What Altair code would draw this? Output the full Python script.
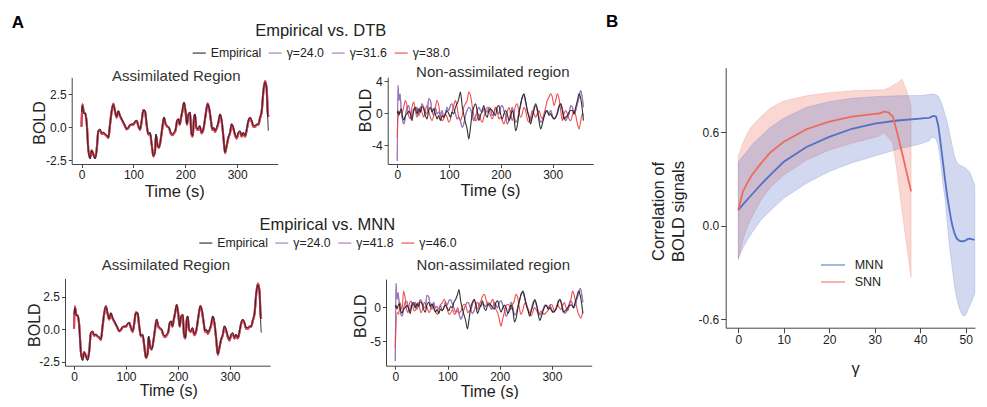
import altair as alt
import pandas as pd

FONT = "Liberation Sans"
W, H = 971, 391
MINUS = "replace(datum.label, '\u2212', '-')"

# ---------------- Panel A : assimilated region (same empirical trace in both rows) ----------------
T_ASSIM = [0, 1.6, 4.8, 6.7, 10.0, 13.2, 16.4, 19.6, 22.8, 26.0,
           29.2, 32.4, 35.6, 38.9, 42.1, 45.3, 48.5, 51.7, 54.9, 58.1,
           61.3, 64.5, 67.7, 70.9, 74.2, 77.4, 80.6, 83.8, 87.0, 90.2,
           93.4, 96.6, 99.9, 103.1, 106.3, 109.5, 112.7, 115.9, 119.1, 122.3,
           125.5, 128.8, 132.0, 135.2, 138.4, 141.6, 143.5, 146.7, 149.3, 153.1,
           155.7, 158.9, 162.2, 165.4, 168.6, 171.8, 175.0, 178.2, 181.4, 184.0,
           186.6, 189.2, 191.7, 194.3, 197.5, 200.7, 203.3, 205.9, 209.1, 211.6,
           214.2, 216.8, 218.7, 221.3, 224.5, 227.7, 231.5, 235.4, 239.2, 243.1,
           246.3, 249.5, 252.1, 254.7, 257.2, 260.4, 263.6, 266.9, 270.1, 273.3,
           276.5, 279.7, 282.9, 286.1, 289.3, 292.6, 295.8, 299.0, 302.2, 305.4,
           308.6, 311.8, 315.0, 318.3, 321.5, 324.7, 327.9, 331.1, 334.3, 337.5,
           340.7, 344.0, 347.2, 350.4, 353.6, 356.8, 358.7, 360.0]
V_EMP_ASSIM = [1.14, 1.64, 1.01, 1.06, 0.25, -1.77, -2.40, -1.77, -2.02, -2.40,
               -1.77, -0.25, -0.13, -0.45, -0.38, -0.51, -0.58, -0.76, 0.25, 1.26,
               1.72, 1.26, 0.81, 1.26, 0.88, 0.63, 0.38, 0.13, -0.13, 0.0,
               0.2, 0.25, 0.25, 0.45, 0.51, 0.13, -0.13, 0.51, 1.26, 1.26,
               0.25, -0.51, -0.38, -1.26, -2.15, -1.89, -0.51, -1.39, -1.52, -0.76,
               0.0, 0.76, 0.25, 0.13, 0.0, -0.38, -0.51, -0.38, -0.13, 0.51,
               0.63, 0.25, 0.76, 1.26, 1.89, 1.14, 0.25, 1.01, 1.14, -0.38,
               -0.63, 0.76, 1.01, 0.0, -0.13, 0.13, -0.38, 0.0, 1.01, 1.77,
               1.39, 0.51, -0.13, 0.0, -0.25, 0.0, 0.38, 1.01, 0.51, -0.63,
               -1.89, -1.39, -0.76, -0.38, 0.25, 0.0, -0.51, -0.76, -0.38, -0.25,
               -0.63, -0.38, -0.63, -0.13, 0.51, 0.76, 0.51, 0.13, 0.13, 0.25,
               0.25, 0.76, 1.26, 2.78, 3.41, 2.78, 0.76, -0.25]
V_MOD_ASSIM = [0.05, 1.75, 1.1, 1.1, 0.35, -1.7, -2.3, -1.75, -2.05, -2.3,
               -1.7, -0.3, -0.2, -0.5, -0.42, -0.55, -0.65, -0.8, 0.2, 1.2,
               1.78, 1.2, 0.75, 1.2, 0.85, 0.6, 0.35, 0.1, -0.15, -0.05,
               0.15, 0.2, 0.2, 0.4, 0.5, 0.1, -0.2, 0.45, 1.3, 1.2,
               0.2, -0.55, -0.45, -1.3, -2.2, -1.8, -0.6, -1.4, -1.55, -0.8,
               -0.05, 0.72, 0.2, 0.05, -0.05, -0.45, -0.6, -0.45, -0.2, 0.45,
               0.6, 0.2, 0.7, 1.2, 1.85, 1.1, 0.2, 0.95, 1.1, -0.45,
               -0.7, 0.7, 0.95, -0.05, -0.2, 0.05, -0.45, -0.05, 0.95, 1.8,
               1.35, 0.45, -0.2, -0.1, -0.35, -0.1, 0.3, 0.95, 0.45, -0.7,
               -1.95, -1.4, -0.8, -0.45, 0.2, -0.1, -0.6, -0.85, -0.45, -0.35,
               -0.7, -0.45, -0.7, -0.2, 0.45, 0.7, 0.45, 0.05, 0.05, 0.2,
               0.2, 0.7, 1.2, 2.7, 3.5, 2.9, 1.2, 0.8]

# ---------------- Panel A : non-assimilated region ----------------
T_NA = [0, 1.3, 3.2, 5.2, 7.7, 10.3, 12.9, 15.5, 18.7, 21.9, 25.2, 28.4,
        31.6, 34.8, 38.1, 41.3, 44.5, 47.7, 51.0, 54.2, 57.4, 60.6,
        63.9, 67.1, 70.3, 73.5, 76.8, 80.0, 83.2, 86.5, 89.7, 92.9,
        96.1, 99.4, 102.6, 105.8, 109.0, 112.3, 115.5, 118.7, 121.9, 125.2,
        128.4, 131.6, 134.8, 138.1, 141.3, 144.5, 147.7, 151.0, 154.2, 157.4,
        160.6, 163.9, 167.1, 170.3, 173.5, 176.8, 180.0, 183.2, 186.5, 189.7,
        192.9, 196.1, 199.4, 202.6, 205.8, 209.0, 212.3, 215.5, 218.7, 221.9,
        225.2, 228.4, 231.6, 234.8, 238.1, 241.3, 244.5, 247.7, 251.0, 254.2,
        257.4, 260.6, 263.9, 267.1, 270.3, 273.5, 276.8, 280.0, 283.2, 286.5,
        289.7, 292.9, 296.1, 299.4, 302.6, 305.8, 309.0, 312.3, 315.5, 318.7,
        321.9, 325.2, 328.4, 331.6, 334.8, 338.1, 341.3, 344.5, 347.7, 351.0,
        354.2, 357.4, 359.4]
V_EMP_NA = [0.0, 0.3, -0.25, 0.2, 0.54, -0.5, -0.85, -0.3, -0.1, 0.25, -0.05, -0.92,
            0.33, 0.75, -0.08, 0.54, 0.13, 0.83, 0.54, -0.29, -0.71, 0.33,
            0.75, 0.13, 0.54, -0.08, -0.71, -0.29, -0.92, -0.29, -0.5, -0.08,
            0.33, -0.08, -0.5, 0.13, -0.08, 0.75, 1.17, 1.79, 2.63, 0.96,
            -0.2, -1.13, -1.96, -3.21, -1.75, -0.08, 0.75, 1.17, 0.33, -0.92,
            -0.29, 0.33, 0.96, -0.08, -0.5, 0.33, 0.54, 0.33, -0.08, -0.29,
            0.75, 0.96, -0.08, -0.71, -0.08, 0.33, -0.08, -0.92, -0.5, 0.33,
            -0.5, -2.17, -1.54, -0.08, 1.17, 2.0, 2.42, 1.58, 0.33, -0.5,
            -1.33, -0.5, 0.33, 1.17, 0.54, -0.92, -1.96, -1.33, -0.5, 0.13,
            0.33, -0.29, -0.08, -0.5, -0.71, -0.5, -0.08, 0.75, 1.17, 0.33,
            -0.71, -0.5, -0.29, 0.13, 0.33, 0.33, -0.08, 0.75, 1.58, 2.42,
            1.79, 0.33, -0.92]
V_DTB_LOW_NA = [-5.92, 3.46, 1.58, 2.42, 0.33, -0.92, -1.33, -0.5, 0.75, 0.96, -0.08, -0.5,
                0.54, 0.33, 0.75, -0.29, 0.33, 1.17, 0.75, 0.13, -0.08, 1.79,
                1.58, 0.33, -0.29, 0.75, -0.08, 0.13, -0.29, 0.33, -0.5, -0.08,
                0.75, 0.33, 0.96, 1.17, 0.54, -0.08, -0.71, -0.5, -0.92, -1.75,
                -1.33, -0.29, 0.33, 0.75, 0.54, -0.29, -0.92, -0.5, 0.33, 0.75,
                0.33, 0.13, 0.54, 0.33, 0.13, 0.75, 0.54, -0.29, -0.08, 0.75,
                0.33, -0.08, 0.75, 0.96, 0.33, -0.29, -1.33, -0.92, -0.08, 0.75,
                -0.08, -1.13, -0.92, 0.13, 0.96, 2.0, 2.21, 1.38, 0.33, -0.29,
                -0.92, -0.29, 0.75, 0.96, 0.33, -0.5, -1.13, -0.92, -0.29, 0.33,
                0.13, -0.08, 0.33, -0.29, -0.71, -0.5, 0.13, 0.96, 1.17, 0.54,
                -0.5, -0.92, -0.5, -0.08, 0.96, 0.75, -0.08, 0.33, 1.17, 2.0,
                2.83, 1.79, 0.75]
V_DTB_HIGH_NA = [-3.0, -0.5, -0.1, 0.2, 0.0, 0.2, 0.9, 1.58, 0.96, -0.29, -0.71, 0.75,
                 1.38, 0.33, -0.5, 0.13, 0.75, 0.13, -0.5, 0.33, 0.96, 0.33,
                 -0.5, -0.92, -0.29, 0.75, 1.58, 0.96, -0.29, -0.92, -0.71, -0.08,
                 -0.5, -1.13, -0.71, 0.13, 0.96, 1.58, 0.75, -0.5, -0.92, -0.29,
                 0.75, 1.17, 1.58, 2.63, 2.21, 0.96, -0.29, -0.92, -0.71, -0.08,
                 -0.71, -1.13, -0.5, 0.33, 0.75, 0.54, -0.29, -0.71, -0.08, 0.75,
                 0.33, -0.71, -0.5, -0.92, -1.33, -0.71, 0.13, 0.75, -0.08, -0.92,
                 -0.08, 0.96, 1.17, 0.13, -0.5, -0.08, 0.75, 0.33, -0.71, -1.13,
                 -0.5, 0.33, -0.08, -0.5, -0.08, 0.33, -0.29, -0.71, -0.08, 0.75,
                 1.58, 2.0, 2.42, 2.0, 0.96, 1.58, 2.42, 1.79, 0.33, -0.92,
                 -0.08, 0.33, -0.08, -0.71, -0.92, -0.29, 0.33, -0.29, -1.33, -1.96,
                 -0.92, -0.08, -0.29]
V_MNN_LOW_NA = [-7.97, 3.56, 1.2, 2.2, 0.4, -0.9, -1.3, -0.5, 0.7, 0.9, -0.1, -0.5,
                0.54, 0.33, 0.75, -0.29, 0.33, 1.17, 0.75, 0.13, -0.08, 1.79,
                1.58, 0.33, -0.29, 0.75, -0.08, 0.13, -0.29, 0.33, -0.5, -0.08,
                0.75, 0.33, 0.96, 1.17, 0.54, -0.08, -0.71, -0.5, -0.92, -1.75,
                -1.33, -0.29, 0.33, 0.75, 0.54, -0.29, -0.92, -0.5, 0.33, 0.75,
                0.33, 0.13, 0.54, 0.33, 0.13, 0.75, 0.54, -0.29, -0.08, 0.75,
                0.33, -0.08, 0.75, 0.96, 0.33, -0.29, -1.33, -0.92, -0.08, 0.75,
                -0.08, -1.13, -0.92, 0.13, 0.96, 2.0, 2.21, 1.38, 0.33, -0.29,
                -0.92, -0.29, 0.75, 0.96, 0.33, -0.5, -1.13, -0.92, -0.29, 0.33,
                0.13, -0.08, 0.33, -0.29, -0.71, -0.5, 0.13, 0.96, 1.17, 0.54,
                -0.5, -0.92, -0.5, -0.08, 0.96, 0.75, -0.08, 0.33, 1.17, 2.0,
                2.83, 1.79, 0.75]
T_MNN_HIGH_NA = [0, 3.2, 6.4, 8.9, 12.8, 16.0, 19.2, 21.7, 24.3, 26.8,
                 30.0, 33.2, 36.4, 39.6, 42.8, 46.0, 49.2, 52.4, 55.6, 58.7,
                 61.9, 65.1, 68.3, 71.5, 74.7, 77.9, 81.1, 84.3, 87.5, 90.7,
                 93.9, 97.1, 100.3, 103.4, 106.6, 109.8, 113.0, 116.2, 119.4, 122.6,
                 125.8, 129.0, 132.2, 135.4, 138.6, 141.8, 145.0, 148.1, 151.3, 154.5,
                 157.7, 160.9, 164.1, 167.3, 170.5, 173.7, 176.9, 180.1, 183.3, 186.5,
                 189.7, 192.8, 196.0, 199.2, 202.4, 205.6, 208.8, 212.0, 215.2, 218.4,
                 221.6, 224.8, 228.0, 231.2, 234.4, 237.5, 240.7, 243.9, 247.1, 250.3,
                 253.5, 256.7, 259.9, 263.1, 266.3, 269.5, 272.7, 275.9, 279.1, 282.2,
                 285.4, 288.6, 291.8, 295.0, 298.2, 301.4, 304.6, 307.8, 311.0, 314.2,
                 317.4, 320.6, 323.8, 327.0, 330.1, 333.3, 336.5, 339.7, 342.9, 346.1,
                 349.3, 352.5, 355.7, 358.9]
V_MNN_HIGH_NA = [-5.99, -0.79, -1.04, 0.69, -0.3, 2.43, 1.19, -0.3, -0.79, 0.45,
                 0.94, 0.2, -0.54, -0.3, 0.69, 0.2, -0.79, -0.3, 0.69, 0.45,
                 -0.3, -0.79, -0.05, 0.45, -0.05, -0.79, -1.04, -0.3, 0.45, 0.69,
                 1.19, 0.45, -0.54, -1.04, -0.79, -0.3, -1.04, -0.79, -0.05, -0.79,
                 -0.54, 0.2, 0.45, 0.2, -0.79, -0.54, -0.3, 0.45, 1.19, 0.45,
                 -0.3, 0.45, 0.94, 1.68, 1.93, 1.19, 0.45, 0.2, 0.69, 1.19,
                 0.45, -0.3, -0.79, -1.78, -2.77, -1.78, -0.79, 0.2, 0.45, 0.2,
                 -0.3, 0.45, 0.94, 1.93, 1.44, -0.05, -1.04, -0.54, 0.45, 0.69,
                 -0.05, -0.79, -1.29, -0.79, -0.05, -0.3, -0.79, -1.04, -0.54, -0.79,
                 -1.04, -0.79, -0.54, -0.05, 0.45, 0.2, -0.54, -0.3, 0.45, -0.05,
                 -0.3, 0.2, 0.69, -0.05, -0.54, 0.2, 1.2, 2.43, 1.7, 0.5,
                 -0.6, -1.3, -1.6, -0.6]

SERIES_DTB = ["Empirical", "γ=24.0", "γ=31.6", "γ=38.0"]
SERIES_MNN = ["Empirical", "γ=24.0", "γ=41.8", "γ=46.0"]
COLORS_A = ["#1c1c1c", "#7d82b8", "#a070bb", "#ee3b3b"]

# ---------------- Panel B ----------------
G_MNN = [0, 1, 2, 3, 5, 7, 10, 15, 20, 25, 30, 35, 40, 41, 42, 42.5, 43, 43.5, 44, 44.5,
         45, 45.5, 46, 46.5, 47, 47.5, 48, 48.5, 49, 49.5, 50, 50.5, 51, 51.5, 52]
MEAN_MNN = [0.10, 0.135, 0.168, 0.20, 0.265, 0.325, 0.41, 0.505, 0.57, 0.622, 0.655, 0.675,
            0.687, 0.69, 0.692, 0.70, 0.705, 0.70, 0.64, 0.53, 0.41, 0.29, 0.18, 0.09, 0.01,
            -0.045, -0.08, -0.095, -0.10, -0.10, -0.095, -0.085, -0.083, -0.088, -0.09]
HI_MNN = [0.41, 0.445, 0.48, 0.52, 0.575, 0.63, 0.69, 0.76, 0.796, 0.818, 0.828, 0.834,
          0.836, 0.838, 0.842, 0.845, 0.845, 0.84, 0.83, 0.80, 0.76, 0.71, 0.66, 0.59, 0.52,
          0.45, 0.41, 0.395, 0.385, 0.378, 0.37, 0.355, 0.34, 0.30, 0.26]
LO_MNN = [-0.21, -0.145, -0.092, -0.045, 0.037, 0.095, 0.176, 0.272, 0.347, 0.404, 0.447,
          0.49, 0.524, 0.535, 0.545, 0.568, 0.565, 0.555, 0.51, 0.40, 0.27, 0.165, 0.0,
          -0.15, -0.26, -0.38, -0.46, -0.52, -0.56, -0.58, -0.575, -0.54, -0.51, -0.475, -0.435]
G_SNN = [0, 1, 2, 3, 5, 7, 10, 15, 20, 25, 30, 31, 32, 33, 34, 35, 36, 37, 38]
MEAN_SNN = [0.10, 0.218, 0.276, 0.325, 0.40, 0.469, 0.539, 0.619, 0.668, 0.70, 0.717, 0.72,
            0.732, 0.728, 0.70, 0.59, 0.47, 0.345, 0.22]
HI_SNN = [0.443, 0.529, 0.593, 0.64, 0.70, 0.753, 0.80, 0.834, 0.853, 0.866, 0.871, 0.871,
          0.872, 0.882, 0.90, 0.918, 0.94, 0.87, 0.764]
LO_SNN = [-0.22, -0.092, -0.006, 0.058, 0.165, 0.244, 0.325, 0.42, 0.486, 0.529, 0.567,
          0.575, 0.597, 0.567, 0.529, 0.33, 0.10, -0.12, -0.33]
MODELS_B = ["MNN", "SNN"]
COLORS_B = ["#5470c6", "#ee6a5a"]


def frame(pairs):
    rows = []
    for name, ts, vs in pairs:
        for t, v in zip(ts, vs):
            rows.append({"s": name, "t": t, "v": v})
    return pd.DataFrame(rows)


# model traces first, empirical trace last (drawn on top, thinner)
df_tl = frame([("γ=24.0", T_ASSIM, V_MOD_ASSIM), ("γ=31.6", T_ASSIM, V_MOD_ASSIM),
               ("γ=38.0", T_ASSIM, V_MOD_ASSIM), ("Empirical", T_ASSIM, V_EMP_ASSIM)])
df_tr = frame([("γ=24.0", T_NA, V_DTB_LOW_NA), ("γ=31.6", T_NA, V_DTB_LOW_NA),
               ("γ=38.0", T_NA, V_DTB_HIGH_NA), ("Empirical", T_NA, V_EMP_NA)])
df_bl = frame([("γ=24.0", T_ASSIM, V_MOD_ASSIM), ("γ=41.8", T_ASSIM, V_MOD_ASSIM),
               ("γ=46.0", T_ASSIM, V_MOD_ASSIM), ("Empirical", T_ASSIM, V_EMP_ASSIM)])
df_br = frame([("γ=24.0", T_NA, V_MNN_LOW_NA), ("γ=41.8", T_NA, V_MNN_LOW_NA),
               ("γ=46.0", T_MNN_HIGH_NA, V_MNN_HIGH_NA), ("Empirical", T_NA, V_EMP_NA)])


def ts_panel(df, names, xdom, xrng, ydom, yrng, yvals, yfmt, x_axis_y, y_axis_x,
             ytitle_xy, xtitle_xy, legend, sw_emp, sw_mod, xtitle_size=16.5):
    return alt.Chart(df).mark_line(opacity=0.9, interpolate="monotone").encode(
        x=alt.X("t:Q",
                scale=alt.Scale(domain=xdom, range=xrng, nice=False, zero=False),
                axis=alt.Axis(orient="bottom", offset=x_axis_y - H, values=[0, 100, 200, 300],
                              format="d", title="Time (s)", titleX=xtitle_xy[0],
                              titleY=xtitle_xy[1], titleFontSize=xtitle_size, tickSize=3.5)),
        y=alt.Y("v:Q",
                scale=alt.Scale(domain=ydom, range=yrng, nice=False, zero=False),
                axis=alt.Axis(orient="left", offset=-y_axis_x, values=yvals, format=yfmt,
                              labelExpr=MINUS, title="BOLD", titleX=ytitle_xy[0],
                              titleY=ytitle_xy[1], titleFontSize=16, tickSize=3.5)),
        color=alt.Color("s:N", scale=alt.Scale(domain=names, range=COLORS_A), legend=legend),
        strokeWidth=alt.condition("datum.s == 'Empirical'", alt.value(sw_emp), alt.value(sw_mod)),
    )


def top_legend(title, lx, ly, tpad):
    return alt.Legend(orient="none", legendX=lx, legendY=ly, direction="horizontal",
                      title=title, titleOrient="top", titleAnchor="middle", titleFont=FONT,
                      titleFontSize=16.5, titleFontWeight="normal", titleColor="#222",
                      titlePadding=tpad, labelFont=FONT, labelFontSize=12.3, labelColor="#222",
                      labelOffset=4, columnPadding=3, symbolType="stroke", symbolSize=169,
                      symbolStrokeWidth=1.6, symbolOpacity=0.65, padding=0)


# bottom row is lifted by 6 px so that its axis titles stay inside the page
tl = ts_panel(df_tl, SERIES_DTB, [-18.9, 378.0], [63.7, 269.7], [-2.78, 3.79], [156, 69.3],
              [-2.5, 0, 2.5], ".1f", 156, 63.7, (-24.3, 114.5), (166.3, 19.0),
              top_legend("Empirical vs. DTB", 183.7, 15, 6), 1.0, 2.1)
tr = ts_panel(df_tr, SERIES_DTB, [-18.5, 378.4], [379.7, 585.3], [-6.32, 4.47], [156, 69.3],
              [-4, 0, 4], "d", 156, 379.7, (-14.3, 102), (482, 18), None, 1.1, 1.1)
bl = ts_panel(df_bl, SERIES_MNN, [-17.3, 376.9], [57, 262], [-2.79, 3.91], [357.7, 270.3],
              [-2.5, 0, 2.5], ".1f", 357.7, 57, (-22.3, 316.7), (160.3, 17.0),
              top_legend("Empirical vs. MNN", 190.3, 209, 2), 1.0, 2.1, 16)
br = ts_panel(df_br, SERIES_MNN, [-17.8, 376.2], [378, 583.7], [-8.66, 4.2], [357.7, 271],
              [-5, 0], "d", 357.7, 378, (-17.6, 307.7), (481.3, 17.5), None, 1.1, 1.1, 16)

# ---- Panel B ----
band_rows = []
for name, gs, los, his in [("SNN", G_SNN, LO_SNN, HI_SNN), ("MNN", G_MNN, LO_MNN, HI_MNN)]:
    for g, lo, hi in zip(gs, los, his):
        band_rows.append({"s": name, "g": g, "lo": lo, "hi": hi})
df_band = pd.DataFrame(band_rows)
line_rows = []
for name, gs, ms in [("MNN", G_MNN, MEAN_MNN), ("SNN", G_SNN, MEAN_SNN)]:
    for g, m in zip(gs, ms):
        line_rows.append({"s": name, "g": g, "m": m})
df_bline = pd.DataFrame(line_rows)

bx_scale = alt.Scale(domain=[-2.77, 52.06], range=[717.7, 967], nice=False, zero=False)
by_scale = alt.Scale(domain=[-0.655, 1.014], range=[319.7, 59.7], nice=False, zero=False)
bx_axis = alt.Axis(orient="bottom", offset=319.7 - H, values=[0, 10, 20, 30, 40, 50],
                   format="d", title="γ", titleX=847, titleY=33, titleFontSize=16.5, tickSize=5)
by_axis = alt.Axis(orient="left", offset=-717.7, values=[-0.6, 0.0, 0.6], format=".1f",
                   labelExpr=MINUS, title=["Correlation of", "BOLD signals"], titleX=-59,
                   titleY=203, titleFontSize=16.5, titleLineHeight=20, tickSize=5)

bands = alt.Chart(df_band).mark_area(fillOpacity=0.27, strokeOpacity=0.22, strokeWidth=1).encode(
    x=alt.X("g:Q", scale=bx_scale, axis=bx_axis),
    y=alt.Y("lo:Q", scale=by_scale, axis=by_axis),
    y2="hi:Q",
    fill=alt.Fill("s:N", scale=alt.Scale(domain=MODELS_B, range=COLORS_B), legend=None),
    stroke=alt.Stroke("s:N", scale=alt.Scale(domain=MODELS_B, range=COLORS_B), legend=None),
)
blines = alt.Chart(df_bline).mark_line(strokeWidth=1.8).encode(
    x=alt.X("g:Q", scale=bx_scale, axis=None),
    y=alt.Y("m:Q", scale=by_scale, axis=None),
    color=alt.Color("s:N", scale=alt.Scale(domain=MODELS_B, range=COLORS_B),
                    legend=alt.Legend(orient="none", legendX=818, legendY=250,
                                      direction="vertical", title=None, labelFont=FONT,
                                      labelFontSize=12.5, labelColor="#222", labelOffset=14.7,
                                      symbolType="M-2,0L2,0", symbolSize=144, rowPadding=3,
                                      symbolStrokeWidth=2, symbolOpacity=0.5, padding=0)),
)


def label(txt, x, y, size, weight="normal", align="center", color="#333"):
    return alt.Chart(pd.DataFrame({"label": [txt]})).mark_text(
        font=FONT, fontSize=size, fontWeight=weight, align=align, baseline="alphabetic",
        color=color).encode(x=alt.value(x), y=alt.value(y), text="label:N")


texts = [
    label("Assimilated Region", 168.3, 72.7, 15),
    label("Non-assimilated region", 484.8, 69.4, 15),
    label("Assimilated Region", 158, 261.7, 15),
    label("Non-assimilated region", 485.3, 261.7, 15),
    label("A", 3.7, 20.3, 17, "bold", "left", "#000"),
    label("B", 598, 19, 17, "bold", "left", "#000"),
]

chart = alt.layer(tl, tr, bl, br, bands, blines, *texts).resolve_scale(
    x="independent", y="independent", color="independent", fill="independent",
    stroke="independent"
).properties(
    width=W, height=H, padding=0, autosize=alt.AutoSizeParams(type="none"), background="white"
).configure_view(stroke=None).configure_axis(
    grid=False, labelFont=FONT, labelFontSize=12, labelColor="#222", titleFont=FONT,
    titleFontWeight="normal", titleColor="#222", domainColor="#444", tickColor="#444",
    labelPadding=2, domainWidth=1, tickWidth=1
)

chart.save("out.html", embed_options={"renderer": "svg", "actions": False})
